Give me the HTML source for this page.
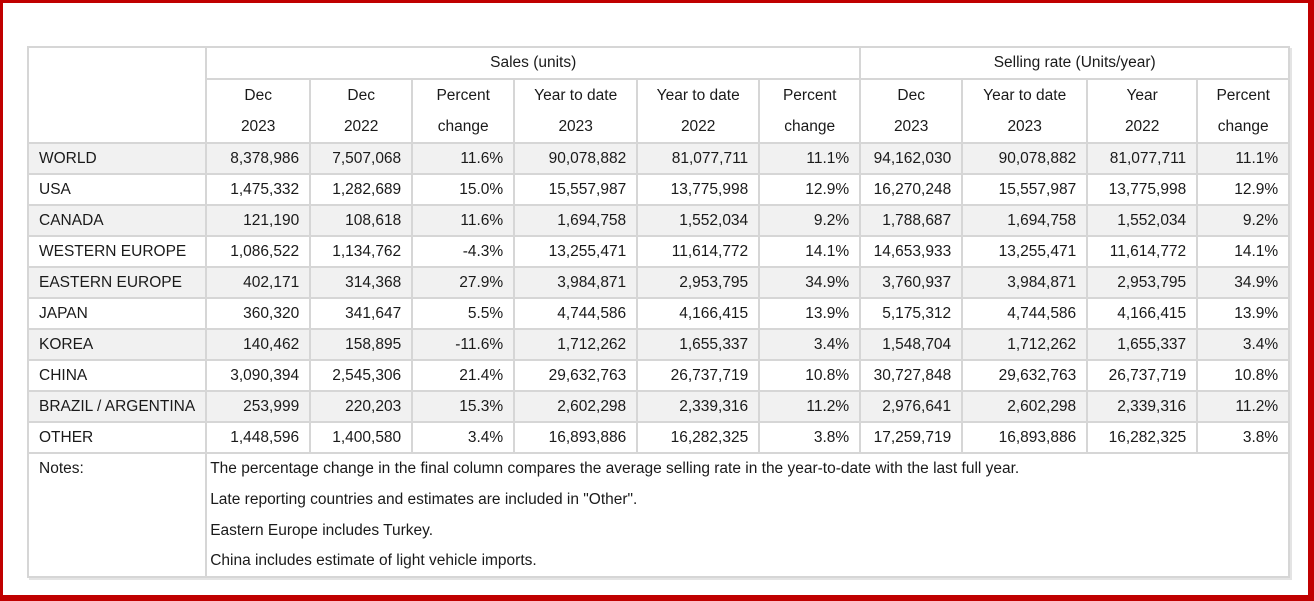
<!DOCTYPE html>
<html><head><meta charset="utf-8"><style>
html,body{margin:0;padding:0;background:#fff}
body{width:1314px;height:601px;position:relative;overflow:hidden;font-family:"Liberation Sans",sans-serif;color:#1a1a1a}
.frame{position:absolute;left:0;top:0;width:1314px;height:601px;box-sizing:border-box;border:3px solid #c00000;border-right-width:6px;border-bottom-width:6px}
table{position:absolute;left:27px;top:46px;border-collapse:collapse;table-layout:fixed;font-size:15.5px;box-shadow:2px 2px 0 #e4e4e4}
td{border:2px solid #d6d6d6;padding:0 10px;white-space:nowrap;overflow:hidden}
td.c{text-align:center}
td.r{text-align:right}
tr.g td{background:#f1f1f1}
tr.d{height:31px}
.h2{height:63px}
.h2 td{line-height:31px;text-align:center}
.n{height:31px}
.n td{border-top:none;border-bottom:none;vertical-align:middle}
</style></head><body>
<div class="frame"></div>
<table>
<colgroup><col style="width:177px"><col style="width:104px"><col style="width:102px"><col style="width:102px"><col style="width:123px"><col style="width:122px"><col style="width:101px"><col style="width:102px"><col style="width:125px"><col style="width:110px"><col style="width:92px"></colgroup>
<tr style="height:32px"><td rowspan="2"></td><td colspan="6" class="c">Sales (units)</td><td colspan="4" class="c">Selling rate (Units/year)</td></tr>
<tr class="h2"><td>Dec<br>2023</td><td>Dec<br>2022</td><td>Percent<br>change</td><td>Year to date<br>2023</td><td>Year to date<br>2022</td><td>Percent<br>change</td><td>Dec<br>2023</td><td>Year to date<br>2023</td><td>Year<br>2022</td><td>Percent<br>change</td></tr>
<tr class="d g"><td>WORLD</td><td class="r">8,378,986</td><td class="r">7,507,068</td><td class="r">11.6%</td><td class="r">90,078,882</td><td class="r">81,077,711</td><td class="r">11.1%</td><td class="r">94,162,030</td><td class="r">90,078,882</td><td class="r">81,077,711</td><td class="r">11.1%</td></tr>
<tr class="d"><td>USA</td><td class="r">1,475,332</td><td class="r">1,282,689</td><td class="r">15.0%</td><td class="r">15,557,987</td><td class="r">13,775,998</td><td class="r">12.9%</td><td class="r">16,270,248</td><td class="r">15,557,987</td><td class="r">13,775,998</td><td class="r">12.9%</td></tr>
<tr class="d g"><td>CANADA</td><td class="r">121,190</td><td class="r">108,618</td><td class="r">11.6%</td><td class="r">1,694,758</td><td class="r">1,552,034</td><td class="r">9.2%</td><td class="r">1,788,687</td><td class="r">1,694,758</td><td class="r">1,552,034</td><td class="r">9.2%</td></tr>
<tr class="d"><td>WESTERN EUROPE</td><td class="r">1,086,522</td><td class="r">1,134,762</td><td class="r">-4.3%</td><td class="r">13,255,471</td><td class="r">11,614,772</td><td class="r">14.1%</td><td class="r">14,653,933</td><td class="r">13,255,471</td><td class="r">11,614,772</td><td class="r">14.1%</td></tr>
<tr class="d g"><td>EASTERN EUROPE</td><td class="r">402,171</td><td class="r">314,368</td><td class="r">27.9%</td><td class="r">3,984,871</td><td class="r">2,953,795</td><td class="r">34.9%</td><td class="r">3,760,937</td><td class="r">3,984,871</td><td class="r">2,953,795</td><td class="r">34.9%</td></tr>
<tr class="d"><td>JAPAN</td><td class="r">360,320</td><td class="r">341,647</td><td class="r">5.5%</td><td class="r">4,744,586</td><td class="r">4,166,415</td><td class="r">13.9%</td><td class="r">5,175,312</td><td class="r">4,744,586</td><td class="r">4,166,415</td><td class="r">13.9%</td></tr>
<tr class="d g"><td>KOREA</td><td class="r">140,462</td><td class="r">158,895</td><td class="r">-11.6%</td><td class="r">1,712,262</td><td class="r">1,655,337</td><td class="r">3.4%</td><td class="r">1,548,704</td><td class="r">1,712,262</td><td class="r">1,655,337</td><td class="r">3.4%</td></tr>
<tr class="d"><td>CHINA</td><td class="r">3,090,394</td><td class="r">2,545,306</td><td class="r">21.4%</td><td class="r">29,632,763</td><td class="r">26,737,719</td><td class="r">10.8%</td><td class="r">30,727,848</td><td class="r">29,632,763</td><td class="r">26,737,719</td><td class="r">10.8%</td></tr>
<tr class="d g"><td>BRAZIL / ARGENTINA</td><td class="r">253,999</td><td class="r">220,203</td><td class="r">15.3%</td><td class="r">2,602,298</td><td class="r">2,339,316</td><td class="r">11.2%</td><td class="r">2,976,641</td><td class="r">2,602,298</td><td class="r">2,339,316</td><td class="r">11.2%</td></tr>
<tr class="d"><td>OTHER</td><td class="r">1,448,596</td><td class="r">1,400,580</td><td class="r">3.4%</td><td class="r">16,893,886</td><td class="r">16,282,325</td><td class="r">3.8%</td><td class="r">17,259,719</td><td class="r">16,893,886</td><td class="r">16,282,325</td><td class="r">3.8%</td></tr>
<tr class="n"><td style="border-top:2px solid #d6d6d6">Notes:</td><td colspan="10" style="border-top:2px solid #d6d6d6;padding-left:3px">The percentage change in the final column compares the average selling rate in the year-to-date with the last full year.</td></tr>
<tr class="n"><td></td><td colspan="10" style="padding-left:3px">Late reporting countries and estimates are included in "Other".</td></tr>
<tr class="n"><td></td><td colspan="10" style="padding-left:3px">Eastern Europe includes Turkey.</td></tr>
<tr class="n"><td style="border-bottom:2px solid #d6d6d6"></td><td colspan="10" style="padding-left:3px;border-bottom:2px solid #d6d6d6">China includes estimate of light vehicle imports.</td></tr>
</table>
</body></html>
